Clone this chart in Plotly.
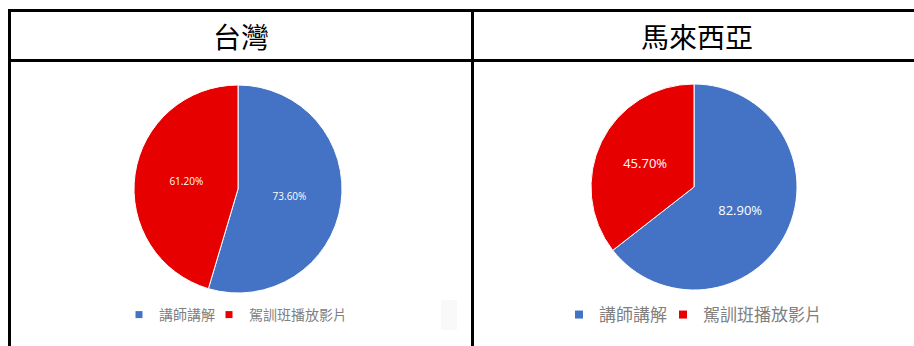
import plotly.graph_objects as go

W, H = 914, 346

labels = ["講師講解", "駕訓班播放影片"]
taiwan_values = [73.6, 61.2]
malaysia_values = [82.9, 45.7]
panel_titles = ["台灣", "馬來西亞"]
colors = ["#4472C4", "#E60000"]

def px_x(x):
    return x / W

def px_y(y):
    return 1 - y / H

fig = go.Figure()

fig.add_trace(go.Pie(
    labels=labels, values=taiwan_values, sort=False, direction="clockwise",
    rotation=0,
    marker=dict(colors=colors, line=dict(color="white", width=1)),
    texttemplate="%{value:.2f}%", textposition="inside",
    insidetextorientation="horizontal",
    textfont=dict(color="white", size=10, family="Open Sans"),
    domain=dict(x=[px_x(134), px_x(342)], y=[px_y(293), px_y(85)]),
    showlegend=False, hoverinfo="label+value",
))

fig.add_trace(go.Pie(
    labels=labels, values=malaysia_values, sort=False, direction="clockwise",
    rotation=0,
    marker=dict(colors=colors, line=dict(color="white", width=1)),
    texttemplate="%{value:.2f}%", textposition="inside",
    insidetextorientation="horizontal",
    textfont=dict(color="white", size=13, family="Open Sans"),
    domain=dict(x=[px_x(590), px_x(798)], y=[px_y(290), px_y(84)]),
    showlegend=False, hoverinfo="label+value",
))

# legend entries: one small legend per entry so each can be placed like the reference
legend_specs = [
    # (legend id, panel index, label index, marker size, font size, left px)
    ("legend", 0, 0, 7, 14, 119),
    ("legend2", 0, 1, 7, 14, 209),
    ("legend3", 1, 0, 8, 17, 559),
    ("legend4", 1, 1, 8, 17, 663),
]
legend_layouts = {}
for lid, panel, li, msize, fsize, left in legend_specs:
    fig.add_trace(go.Scatter(
        x=[None], y=[None], mode="markers", name=labels[li],
        marker=dict(symbol="square", size=msize, color=colors[li]),
        legend=lid, showlegend=True, hoverinfo="skip",
    ))
    legend_layouts[lid] = dict(
        orientation="h", x=px_x(left), y=px_y(315), xanchor="left", yanchor="middle",
        font=dict(size=fsize, color="#808080", family="Noto Sans CJK TC"),
        bgcolor="rgba(0,0,0,0)", itemwidth=30, tracegroupgap=0,
    )

line_style = dict(color="black", width=3)
shapes = [
    dict(type="line", xref="paper", yref="paper", x0=px_x(9), x1=1.0, y0=px_y(10.5), y1=px_y(10.5), line=line_style),
    dict(type="line", xref="paper", yref="paper", x0=px_x(9), x1=1.0, y0=px_y(60.5), y1=px_y(60.5), line=line_style),
    dict(type="line", xref="paper", yref="paper", x0=px_x(9.5), x1=px_x(9.5), y0=px_y(9), y1=0, line=line_style),
    dict(type="line", xref="paper", yref="paper", x0=px_x(472.5), x1=px_x(472.5), y0=px_y(9), y1=0, line=line_style),
    dict(type="rect", xref="paper", yref="paper", x0=px_x(441), x1=px_x(457), y0=px_y(330), y1=px_y(300),
         fillcolor="rgba(0,0,0,0.025)", line=dict(width=0), layer="below"),
]

annotations = [
    dict(text=panel_titles[0], x=px_x(241), y=px_y(36), xref="paper", yref="paper",
         showarrow=False, font=dict(size=28, color="black", family="Noto Sans CJK TC"),
         xanchor="center", yanchor="middle"),
    dict(text=panel_titles[1], x=px_x(697), y=px_y(36), xref="paper", yref="paper",
         showarrow=False, font=dict(size=28, color="black", family="Noto Sans CJK TC"),
         xanchor="center", yanchor="middle"),
]

fig.update_layout(
    width=W, height=H,
    margin=dict(l=0, r=0, t=0, b=0),
    paper_bgcolor="white", plot_bgcolor="white",
    xaxis=dict(visible=False), yaxis=dict(visible=False),
    shapes=shapes, annotations=annotations,
    font=dict(family="Noto Sans CJK TC"),
    **legend_layouts,
)

fig.write_html("out.html")
